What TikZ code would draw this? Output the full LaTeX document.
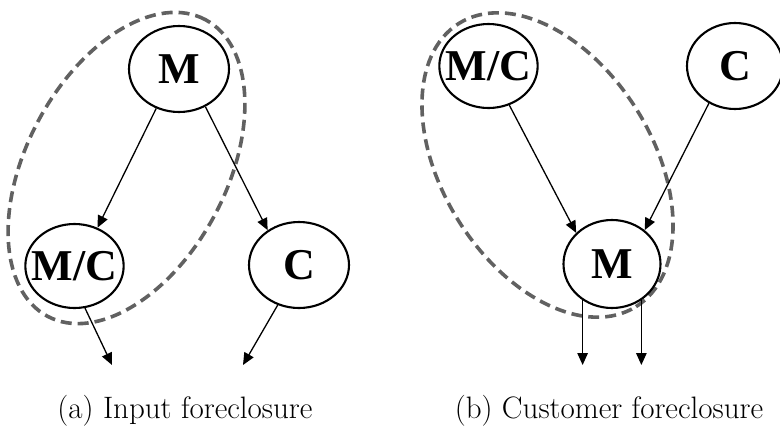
\documentclass[tikz,border=0pt]{standalone}
\usepackage{fontspec}
\newfontfamily\nodefont{Liberation Serif}
\usetikzlibrary{arrows.meta,shapes.geometric}
\begin{document}
\begin{tikzpicture}[x=1pt,y=-1pt,
  agent/.style={draw=black, line width=2.1pt, ellipse, inner xsep=-8pt, inner ysep=0pt,
    font=\nodefont\bfseries\fontsize{44}{44}\selectfont},
  arr/.style={line width=1.3pt, -{Triangle[length=12pt,width=10.5pt]}},
  group/.style={draw=black!62, line width=3.6pt, dash pattern=on 11pt off 6pt},
  captext/.style={font=\fontsize{31}{33}\selectfont, anchor=base}]
\useasboundingbox (0,0) rectangle (780,426);
% ---------- (a) ----------
\draw[group, rotate around={62:(126.5,168)}] (126.5,168) ellipse [x radius=168pt, y radius=100pt];
\node[agent, minimum width=100pt, minimum height=86pt] (aM) at (179,69) {M};
\node[agent, minimum width=97pt, minimum height=84pt] (aMC) at (74.5,266) {M/C};
\node[agent, minimum width=100pt, minimum height=86pt] (aC) at (299,265) {C};
\coordinate (aO1) at (112,365);
\coordinate (aO2) at (243,365);
\draw[arr] (aM.240) -- (aMC.59);
\draw[arr] (aM.305) -- (aC.132);
\draw[arr] (aMC.284) -- (aO1);
\draw[arr] (aC.242) -- (aO2);
\node[captext] (capa) at (185,418) {(a) Input foreclosure};
% ---------- (b) ----------
\draw[group, rotate around={-58:(547.5,165)}] (547.5,165) ellipse [x radius=167pt, y radius=105pt];
\node[agent, minimum width=98pt, minimum height=84pt] (bMC) at (488.5,66) {M/C};
\node[agent, minimum width=96pt, minimum height=86pt] (bC) at (735,66) {C};
\node[agent, minimum width=97pt, minimum height=88pt] (bM) at (612,264) {M};
\coordinate (bO) at (0,365);
\draw[arr] (bMC.298) -- (bM.139);
\draw[arr] (bC.235) -- (bM.46);
\draw[arr] (bM.231) -- (bM.231 |- bO);
\draw[arr] (bM.309) -- (bM.309 |- bO);
\node[captext] (capb) at (609,418) {(b) Customer foreclosure};
\end{tikzpicture}
\end{document}
